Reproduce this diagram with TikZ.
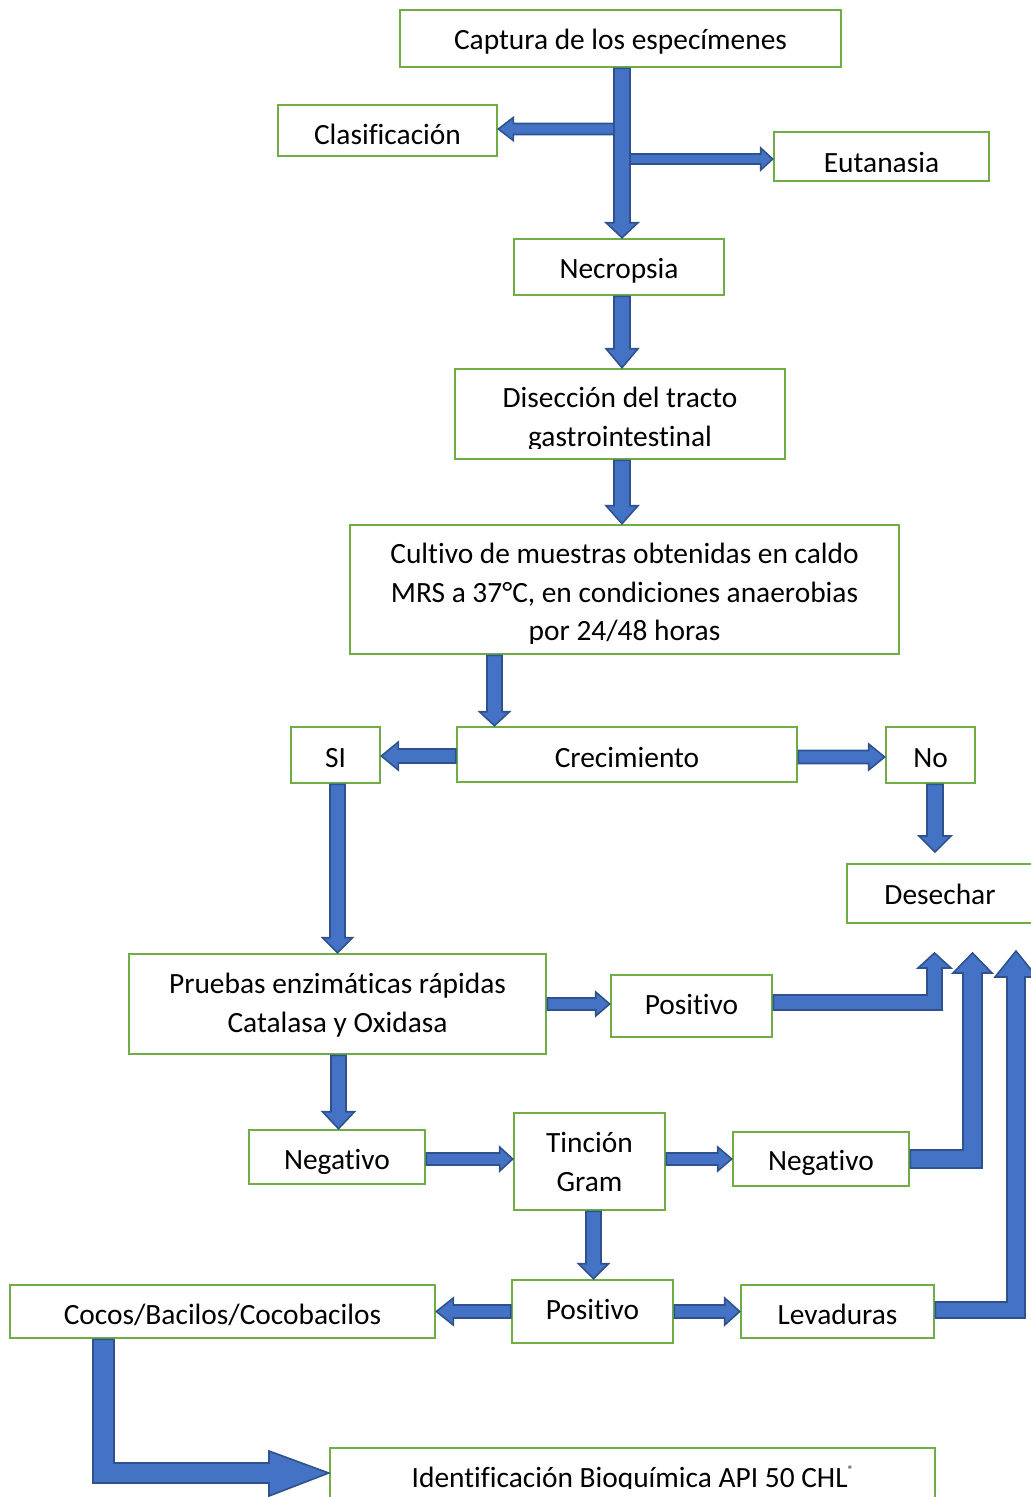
\documentclass[tikz,border=0pt]{standalone}
\usepackage{fontspec}
\setmainfont{Carlito}[Ligatures=NoCommon]
\usetikzlibrary{calc}
\definecolor{boxgreen}{HTML}{70AD47}
\definecolor{arrfill}{HTML}{4472C4}
\definecolor{arrline}{HTML}{2F528F}
\tikzset{
  box/.style={draw=boxgreen, line width=2.6pt, fill=white, inner sep=0pt},
  tx/.style={anchor=base, inner sep=0pt, font=\fontsize{29.4}{35}\selectfont},
  blockarrow/.style={fill=arrfill, draw=arrline, line width=1.6pt, line join=miter},
}
% straight block arrows: #1 start, #2 tip, #3 shaft half width, #4 head half width, #5 head length
\newcommand\arrdown[5]{\filldraw[blockarrow] ($(#1)+(-#3,0)$) -- ($(#2)+(-#3,-#5)$) -- ($(#2)+(-#4,-#5)$) -- (#2) -- ($(#2)+(#4,-#5)$) -- ($(#2)+(#3,-#5)$) -- ($(#1)+(#3,0)$) -- cycle;}
\newcommand\arrleft[5]{\filldraw[blockarrow] ($(#1)+(0,-#3)$) -- ($(#2)+(#5,-#3)$) -- ($(#2)+(#5,-#4)$) -- (#2) -- ($(#2)+(#5,#4)$) -- ($(#2)+(#5,#3)$) -- ($(#1)+(0,#3)$) -- cycle;}
\newcommand\arrright[5]{\filldraw[blockarrow] ($(#1)+(0,-#3)$) -- ($(#2)+(-#5,-#3)$) -- ($(#2)+(-#5,-#4)$) -- (#2) -- ($(#2)+(-#5,#4)$) -- ($(#2)+(-#5,#3)$) -- ($(#1)+(0,#3)$) -- cycle;}
\begin{document}
\begin{tikzpicture}[x=1pt,y=-1pt]
\useasboundingbox (0,0) rectangle (1031,1497);
% boxes
\node[box, minimum width=441pt, minimum height=57pt] (captura) at (620.5,38.5) {};
\node[box, minimum width=219pt, minimum height=51pt] (clasif) at (387.5,130.5) {};
\node[box, minimum width=215pt, minimum height=49pt] (eutan) at (881.5,156.5) {};
\node[box, minimum width=210pt, minimum height=56pt] (necrop) at (619,267) {};
\node[box, minimum width=330pt, minimum height=90pt] (disec) at (620,414) {};
\node[box, minimum width=549pt, minimum height=129pt] (cultivo) at (624.5,589.5) {};
\node[box, minimum width=89pt, minimum height=56pt] (si) at (335.5,755) {};
\node[box, minimum width=340pt, minimum height=55pt] (crec) at (627,754.5) {};
\node[box, minimum width=89pt, minimum height=56pt] (no) at (930.5,755) {};
\node[box, minimum width=198pt, minimum height=59pt] (desechar) at (946,893.5) {};
\node[box, minimum width=417pt, minimum height=100pt] (pruebas) at (337.5,1004) {};
\node[box, minimum width=161pt, minimum height=62pt] (pos1) at (691.5,1006) {};
\node[box, minimum width=176pt, minimum height=54pt] (neg1) at (337,1157) {};
\node[box, minimum width=151pt, minimum height=97pt] (tincion) at (589.5,1161.5) {};
\node[box, minimum width=176pt, minimum height=54pt] (neg2) at (821,1159) {};
\node[box, minimum width=425pt, minimum height=53pt] (cocos) at (222.5,1311.5) {};
\node[box, minimum width=161pt, minimum height=63pt] (pos2) at (592.5,1311.5) {};
\node[box, minimum width=193pt, minimum height=53pt] (lev) at (837.5,1311.5) {};
\node[box, minimum width=605pt, minimum height=67pt] (ident) at (632.5,1481.5) {};
% texts
\node[tx] (captura-t) at (captura.center |- 0,49) {Captura de los especímenes};
\node[tx] (clasif-t) at (clasif.center |- 0,144) {Clasificación};
\begin{scope}
\clip (0,0) rectangle (1031,171.5);
\node[tx] (eutan-t) at (eutan.center |- 0,172) {Eutanasia};
\end{scope}
\node[tx] (necrop-t) at (necrop.center |- 0,278) {Necropsia};
\node[tx] (disec-t1) at (disec.center |- 0,407) {Disección del tracto};
\begin{scope}
\clip (0,0) rectangle (1031,448);
\node[tx] (disec-t2) at (disec.center |- 0,446) {gastrointestinal};
\end{scope}
\node[tx] (cultivo-t1) at (cultivo.center |- 0,563) {Cultivo de muestras obtenidas en caldo};
\node[tx] (cultivo-t2) at (cultivo.center |- 0,602) {MRS a 37°C, en condiciones anaerobias};
\begin{scope}
\clip (0,0) rectangle (1031,643);
\node[tx] (cultivo-t3) at (cultivo.center |- 0,640) {por 24/48 horas};
\end{scope}
\node[tx] (si-t) at (si.center |- 0,767) {SI};
\node[tx] (crec-t) at (crec.center |- 0,767) {Crecimiento};
\node[tx] (no-t) at (no.center |- 0,767) {No};
\node[tx] (desechar-t) at (940,904) {Desechar};
\node[tx] (pruebas-t1) at (pruebas.center |- 0,993) {Pruebas enzimáticas rápidas};
\node[tx] (pruebas-t2) at (pruebas.center |- 0,1032) {Catalasa y Oxidasa};
\node[tx] (pos1-t) at (pos1.center |- 0,1014) {Positivo};
\node[tx] (neg1-t) at (neg1.center |- 0,1169) {Negativo};
\node[tx] (tincion-t1) at (tincion.center |- 0,1152) {Tinción};
\node[tx] (tincion-t2) at (tincion.center |- 0,1191) {Gram};
\node[tx] (neg2-t) at (neg2.center |- 0,1170) {Negativo};
\node[tx] (cocos-t) at (cocos.center |- 0,1324) {Cocos/Bacilos/Cocobacilos};
\node[tx] (pos2-t) at (pos2.center |- 0,1319) {Positivo};
\node[tx] (lev-t) at (lev.center |- 0,1324) {Levaduras};
\begin{scope}
\clip (0,0) rectangle (1031,1488);
\node[tx] (ident-t) at (ident.center |- 0,1487) {Identificación Bioquímica API 50 CHL\raisebox{14pt}{\fontsize{11}{11}\selectfont ®}};
\end{scope}
% straight arrows
\arrdown{622,0 |- captura.south}{622,0 |- necrop.north}{8}{16}{15}
\arrleft{614,129}{clasif.east |- 0,129}{5.5}{11.5}{15}
\arrright{630,159}{eutan.west |- 0,159}{5}{11}{12}
\arrdown{622,0 |- necrop.south}{622,0 |- disec.north}{8}{16}{19}
\arrdown{622,0 |- disec.south}{622,0 |- cultivo.north}{8}{16}{18}
\arrdown{494.5,0 |- cultivo.south}{494.5,0 |- crec.north}{7.5}{15}{14}
\arrleft{crec.west |- 0,756}{si.east |- 0,756}{7}{14}{17}
\arrright{crec.east |- 0,757}{no.west |- 0,757}{6.5}{13}{16}
\coordinate (notip) at (935,852);
\arrdown{935,0 |- no.south}{notip}{8}{16}{16}
\arrdown{337.5,0 |- si.south}{337.5,0 |- pruebas.north}{7.5}{15}{15}
\arrright{pruebas.east |- 0,1004}{pos1.west |- 0,1004}{6}{12}{14}
\arrdown{338.5,0 |- pruebas.south}{338.5,0 |- neg1.north}{7.5}{16}{17}
\arrright{neg1.east |- 0,1159}{tincion.west |- 0,1159}{6}{12}{13}
\arrright{tincion.east |- 0,1159}{neg2.west |- 0,1159}{6}{12}{14}
\arrdown{593.5,0 |- tincion.south}{593.5,0 |- pos2.north}{7.5}{15}{15}
\arrleft{pos2.west |- 0,1311.5}{cocos.east |- 0,1311.5}{6.5}{13.5}{17}
\arrright{pos2.east |- 0,1311.5}{lev.west |- 0,1311.5}{6.5}{13.5}{15}
% bent arrows towards Desechar
\filldraw[blockarrow] (pos1.east |- 0,995) -- (927,995) -- (927,968) -- (918,968) -- (934.5,953) -- (951,968) -- (942,968) -- (942,1010) -- (pos1.east |- 0,1010) -- cycle;
\filldraw[blockarrow] (neg2.east |- 0,1150) -- (963,1150) -- (963,973) -- (953,973) -- (972.5,953) -- (992,973) -- (982,973) -- (982,1168) -- (neg2.east |- 0,1168) -- cycle;
\filldraw[blockarrow] (lev.east |- 0,1302) -- (1007,1302) -- (1007,977) -- (995,977) -- (1016,951) -- (1037,977) -- (1025,977) -- (1025,1318) -- (lev.east |- 0,1318) -- cycle;
% Cocos to Identificacion
\filldraw[blockarrow] (93,0 |- cocos.south) -- (93,1483) -- (269,1483) -- (269,1496) -- (ident.west |- 0,1473) -- (269,1451) -- (269,1463) -- (114,1463) -- (114,0 |- cocos.south) -- cycle;
\end{tikzpicture}
\end{document}
